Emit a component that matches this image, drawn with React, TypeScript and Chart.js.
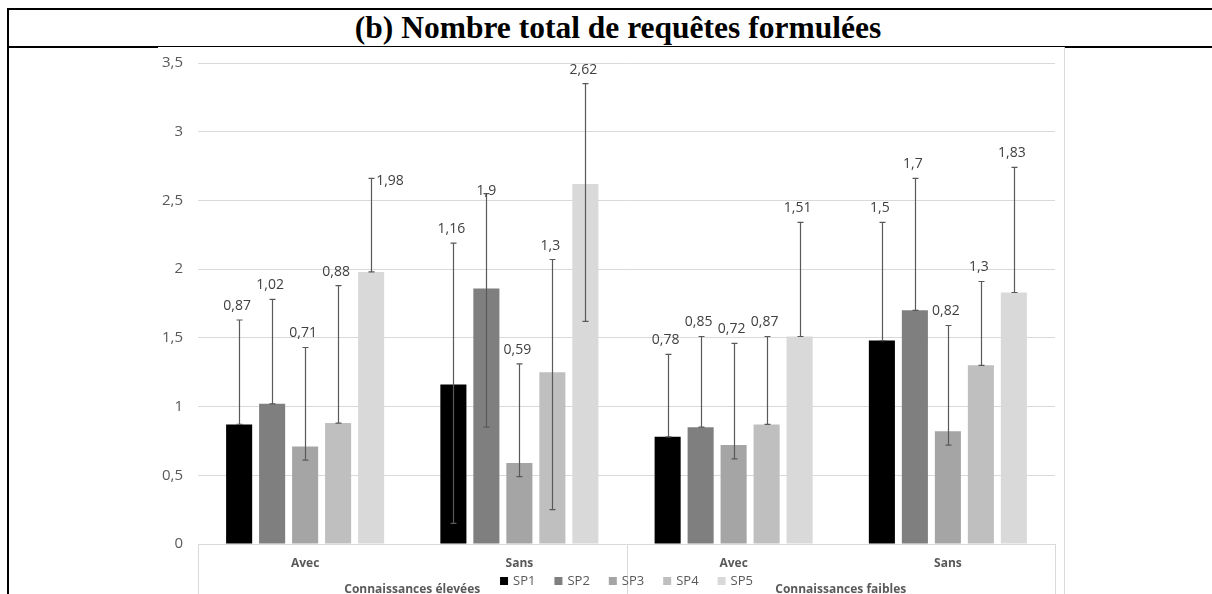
import React, { useEffect, useRef } from "react";
import { Chart, registerables } from "chart.js";

Chart.register(...registerables);

const categories = ["Avec", "Sans", "Avec", "Sans"];
const groupLabels = ["Connaissances élevées", "Connaissances faibles"];
const seriesNames = ["SP1", "SP2", "SP3", "SP4", "SP5"];

const sp1 = [0.87, 1.16, 0.78, 1.48];
const sp2 = [1.02, 1.86, 0.85, 1.7];
const sp3 = [0.71, 0.59, 0.72, 0.82];
const sp4 = [0.88, 1.25, 0.87, 1.3];
const sp5 = [1.98, 2.62, 1.51, 1.83];

const sp1Labels = ["0,87", "1,16", "0,78", "1,5"];
const sp2Labels = ["1,02", "1,9", "0,85", "1,7"];
const sp3Labels = ["0,71", "0,59", "0,72", "0,82"];
const sp4Labels = ["0,88", "1,3", "0,87", "1,3"];
const sp5Labels = ["1,98", "2,62", "1,51", "1,83"];

const sp1Low = [0.87, 0.15, 0.78, 1.48];
const sp1High = [1.63, 2.19, 1.38, 2.34];
const sp2Low = [1.02, 0.85, 0.85, 1.7];
const sp2High = [1.78, 2.55, 1.51, 2.66];
const sp3Low = [0.61, 0.49, 0.62, 0.72];
const sp3High = [1.43, 1.31, 1.46, 1.59];
const sp4Low = [0.88, 0.25, 0.87, 1.3];
const sp4High = [1.88, 2.07, 1.51, 1.91];
const sp5Low = [1.98, 1.62, 1.51, 1.83];
const sp5High = [2.66, 3.35, 2.34, 2.74];

const yMin = 0;
const yMax = 3.5;
const yStep = 0.5;

const colors = ["#000000", "#7f7f7f", "#a5a5a5", "#bfbfbf", "#d9d9d9"];
const values = [sp1, sp2, sp3, sp4, sp5];
const labelSets = [sp1Labels, sp2Labels, sp3Labels, sp4Labels, sp5Labels];
const lows = [sp1Low, sp2Low, sp3Low, sp4Low, sp5Low];
const highs = [sp1High, sp2High, sp3High, sp4High, sp5High];

// label placement tweaks (style only)
const LABEL_OVERRIDES: Record<string, { dx: number; dy: number; align: CanvasTextAlign }> = {
  "4-0": { dx: -8, dy: 3, align: "left" },
  "1-1": { dx: 0, dy: -3, align: "center" },
};

const CANVAS_W = 906;
const CANVAS_H = 560;
const FONT = "'Open Sans', sans-serif";

const overlayPlugin = {
  id: "overlay",
  afterDatasetsDraw(chart: any) {
    const ctx = chart.ctx;
    const y = chart.scales.y;
    ctx.save();
    // error bars
    ctx.strokeStyle = "#595959";
    ctx.lineWidth = 1.2;
    chart.data.datasets.forEach((ds: any, i: number) => {
      const meta = chart.getDatasetMeta(i);
      meta.data.forEach((el: any, j: number) => {
        const cx = Math.round(el.x) + 0.5;
        const yl = y.getPixelForValue(lows[i][j]);
        const yh = y.getPixelForValue(highs[i][j]);
        ctx.beginPath();
        ctx.moveTo(cx, yl);
        ctx.lineTo(cx, yh);
        ctx.moveTo(cx - 3, yl);
        ctx.lineTo(cx + 3, yl);
        ctx.moveTo(cx - 3, yh);
        ctx.lineTo(cx + 3, yh);
        ctx.stroke();
      });
    });
    // data labels
    ctx.fillStyle = "#404040";
    ctx.font = `14px ${FONT}`;
    ctx.textBaseline = "middle";
    chart.data.datasets.forEach((ds: any, i: number) => {
      const meta = chart.getDatasetMeta(i);
      meta.data.forEach((el: any, j: number) => {
        const yh = y.getPixelForValue(highs[i][j]);
        const ov = LABEL_OVERRIDES[`${i}-${j}`];
        if (ov) {
          ctx.textAlign = ov.align;
          const bx = ov.align === "left" ? el.x + el.width / 2 + ov.dx : el.x + ov.dx;
          ctx.fillText(labelSets[i][j], bx, yh + ov.dy);
        } else {
          ctx.textAlign = "center";
          ctx.fillText(labelSets[i][j], el.x - 2, yh - 14);
        }
      });
    });
    ctx.restore();
  },
  afterDraw(chart: any) {
    const ctx = chart.ctx;
    const x = chart.scales.x;
    const area = chart.chartArea;
    ctx.save();
    // category box lines
    ctx.strokeStyle = "#d9d9d9";
    ctx.lineWidth = 1;
    const mid = (x.getPixelForValue(1) + x.getPixelForValue(2)) / 2;
    const bottom = chart.height;
    [area.left, mid, area.right].forEach((px: number) => {
      const p = Math.round(px) + 0.5;
      ctx.beginPath();
      ctx.moveTo(p, area.bottom);
      ctx.lineTo(p, bottom);
      ctx.stroke();
    });
    // group labels
    ctx.fillStyle = "#595959";
    ctx.font = `bold 12px ${FONT}`;
    ctx.textAlign = "center";
    ctx.textBaseline = "middle";
    ctx.fillText(groupLabels[0], (area.left + mid) / 2, area.bottom + 46);
    ctx.fillText(groupLabels[1], (mid + area.right) / 2, area.bottom + 46);
    // legend
    ctx.font = `13px ${FONT}`;
    const box = 8;
    const gap = 5;
    const spacing = 19;
    const widths = chart.data.datasets.map((d: any) => box + gap + ctx.measureText(d.label).width);
    const total = widths.reduce((a: number, b: number) => a + b, 0) + spacing * (widths.length - 1);
    let lx = (area.left + area.right) / 2 - total / 2;
    const ly = area.bottom + 37;
    ctx.textAlign = "left";
    chart.data.datasets.forEach((d: any, i: number) => {
      ctx.fillStyle = d.backgroundColor;
      ctx.fillRect(lx, ly - box / 2, box, box);
      ctx.fillStyle = "#595959";
      ctx.fillText(d.label, lx + box + gap, ly);
      lx += widths[i] + spacing;
    });
    ctx.restore();
  },
};

function BarChart() {
  const ref = useRef<HTMLCanvasElement | null>(null);
  useEffect(() => {
    if (!ref.current) return;
    const chart = new Chart(ref.current, {
      type: "bar",
      data: {
        labels: categories,
        datasets: seriesNames.map((name, i) => ({
          label: name,
          data: values[i],
          backgroundColor: colors[i],
          borderWidth: 0,
          categoryPercentage: 0.77,
          barPercentage: 0.79,
        })),
      },
      options: {
        responsive: false,
        animation: false,
        devicePixelRatio: 1,
        layout: { padding: { top: 16, right: 9, left: 0, bottom: 0 } },
        plugins: {
          legend: { display: false },
          tooltip: { enabled: false },
          title: { display: false },
        },
        scales: {
          x: {
            grid: { display: false, drawTicks: false },
            border: { display: false },
            ticks: {
              color: "#595959",
              font: { family: FONT, size: 12, weight: "bold" },
              padding: 12,
              maxRotation: 0,
            },
            afterFit: (s: any) => {
              s.height = 63;
            },
          },
          y: {
            min: yMin,
            max: yMax,
            grid: { color: "#d9d9d9", lineWidth: 1, drawTicks: true, tickLength: 15, tickColor: "rgba(0,0,0,0)" },
            border: { display: false },
            ticks: {
              stepSize: yStep,
              color: "#595959",
              font: { family: FONT, size: 15 },
              padding: 0,
              callback: (v: any) => String(v).replace(".", ","),
            },
            afterFit: (s: any) => {
              s.width = 40;
            },
          },
        },
      },
      plugins: [overlayPlugin],
    });
    return () => chart.destroy();
  }, []);
  return <canvas ref={ref} width={CANVAS_W} height={CANVAS_H} style={{ width: CANVAS_W, height: CANVAS_H, display: "block" }} />;
}

export default function App() {
  return (
    <div style={{ position: "absolute", left: 0, top: 0, width: 1212, height: 594, overflow: "hidden", background: "#fff" }}>
      <div style={{ position: "absolute", left: 7, top: 8, width: 1205, height: 2, background: "#000" }} />
      <div style={{ position: "absolute", left: 7, top: 8, width: 2, height: 586, background: "#000" }} />
      <div style={{ position: "absolute", left: 7, top: 46, width: 1205, height: 2, background: "#000" }} />
      <div
        style={{
          position: "absolute",
          left: 0,
          top: 10,
          width: 1236,
          height: 36,
          lineHeight: "36px",
          textAlign: "center",
          fontFamily: "'Liberation Serif', 'Times New Roman', serif",
          fontWeight: "bold",
          fontSize: 31.5,
          color: "#000",
          whiteSpace: "nowrap",
        }}
      >
        (b) Nombre total de requêtes formulées
      </div>
      <div
        style={{
          position: "absolute",
          left: 158,
          top: 47,
          width: CANVAS_W,
          height: 547,
          overflow: "hidden",
          background: "#fff",
          borderRight: "1px solid #d9d9d9",
        }}
      >
        <BarChart />
      </div>
    </div>
  );
}
